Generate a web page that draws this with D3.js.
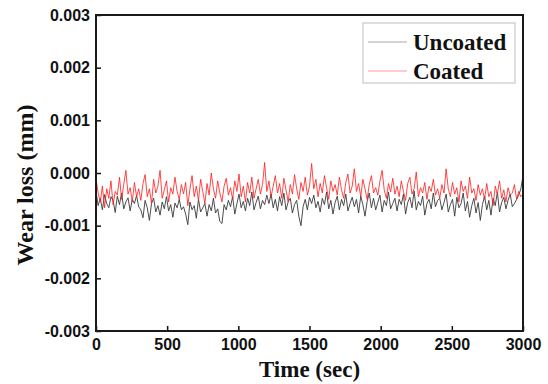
<!DOCTYPE html>
<html>
<head>
<meta charset="utf-8">
<script src="https://cdn.jsdelivr.net/npm/d3@7"></script>
<style>
  body { margin: 0; background: #fff; }
  .tick text { font-family: "Liberation Sans", Arial, sans-serif; font-weight: bold; font-size: 16px; fill: #111; }
  .title { font-family: "Liberation Serif", "Times New Roman", serif; font-weight: bold; fill: #111; }
</style>
</head>
<body>
<svg id="chart"></svg>
<script>
// sampled every 15 sec, values in units of 1e-5 mm
const sampleStep = 15;
const unit = 1e-5;
const uncoated = [
  -35,-62,-48,-70,-41,-58,-66,-45,-52,-75,-44,-60,-38,-68,-55,-47,-72,-50,-58,-43,-64,
  -70,-85,-52,-66,-90,-58,-48,-74,-62,-80,-55,-68,-45,-72,-60,-84,-57,-66,-50,-70,
  -64,-78,-98,-55,-70,-62,-86,-50,-74,-66,-58,-82,-60,-72,-48,-76,-68,-92,-96,-60,
  -70,-52,-64,-45,-78,-58,-40,-66,-54,-72,-48,-62,-36,-70,-56,-44,-68,-52,-60,-42,
  -58,-40,-66,-50,-72,-45,-62,-38,-70,-55,-48,-76,-60,-52,-82,-100,-64,-50,-70,-46,
  -58,-42,-66,-54,-74,-48,-60,-36,-68,-52,-78,-56,-44,-70,-50,-62,-40,-72,-58,-46,
  -64,-50,-76,-44,-60,-82,-54,-38,-66,-48,-70,-56,-42,-74,-52,-62,-36,-68,-58,-48,
  -72,-50,-60,-40,-78,-56,-46,-66,-34,-70,-54,-62,-44,-80,-58,-50,-68,-38,-64,-52,
  -48,-70,-56,-40,-74,-60,-50,-82,-46,-66,-58,-38,-72,-54,-84,-62,-48,-76,-56,-90,
  -60,-44,-70,-52,-80,-48,-62,-36,-74,-56,-46,-68,-52,-40,-64,-58,-50,-42,-30,-5
];
const coated = [
  -10,-38,-55,-25,-66,-30,-48,-15,-60,-35,-42,-8,-50,-22,5,-40,-28,-55,-18,-45,-30,
  -52,-20,-3,-45,-30,-58,-12,-38,-25,5,-48,-32,-15,-55,-28,-40,-8,-35,-50,-22,
  -40,-18,-62,-30,-5,-45,-25,-52,-12,-35,-58,-20,-42,0,-30,-48,-15,-38,-55,-25,
  -10,-42,-28,-50,-15,-35,-2,-45,-25,-55,-18,-38,-8,-48,-30,-12,-40,-22,20,-35,
  -15,-45,-25,-5,-38,-20,-48,-10,-32,-55,-22,-40,-3,-30,-50,-18,-35,-8,-42,-25,
  18,-30,-12,-45,-20,-38,-5,-28,-50,-15,-35,-22,-42,-8,-32,-48,-18,-2,-38,-25,
  8,-35,-20,-45,-12,-30,-50,-22,-5,-38,-28,-42,-15,5,-32,-48,-20,-36,-10,-40,
  -25,-45,-15,-35,-52,-20,-8,-40,-30,2,-45,-28,-38,-18,-50,-25,-35,-12,-42,-30,
  -48,-22,-38,8,-30,-45,-18,-40,-28,-55,-15,-35,-25,-48,-8,-38,-30,-52,-22,-42,
  -30,-50,-20,-45,-35,-62,-25,-40,-15,-48,-32,-55,-28,-42,-38,-22,-50,-35,-45,-40
];
const xTicks = [0, 500, 1000, 1500, 2000, 2500, 3000];
const yTicks = [-0.003, -0.002, -0.001, 0, 0.001, 0.002, 0.003];
const seriesNames = ['Uncoated', 'Coated'];
const seriesColors = ['#3a3a3a', '#ff1a1a'];

const W = 548, H = 384;
const margin = { top: 15, right: 25, bottom: 53, left: 96 };
const width = W - margin.left - margin.right;
const height = H - margin.top - margin.bottom;

const svg = d3.select('#chart').attr('width', W).attr('height', H);
const g = svg.append('g').attr('transform', `translate(${margin.left},${margin.top})`);

const x = d3.scaleLinear().domain([0, 3000]).range([0, width]);
const y = d3.scaleLinear().domain([-0.003, 0.003]).range([height, 0]);

const line = d3.line()
  .x((d, i) => x(i * sampleStep))
  .y((d) => y(d * unit));

const series = [uncoated, coated];
series.forEach((s, k) => {
  g.append('path')
    .datum(s)
    .attr('fill', 'none')
    .attr('stroke', seriesColors[k])
    .attr('stroke-width', 1)
    .attr('stroke-opacity', k === 0 ? 0.9 : 0.8)
    .attr('d', line);
});

// axes with inward ticks
const yFormat = (d) => d3.format('.3f')(d).replace('\u2212', '-');
const xAxis = g.append('g')
  .attr('transform', `translate(0,${height})`)
  .call(d3.axisBottom(x).tickValues(xTicks).tickFormat(d3.format('d')).tickSizeInner(-5).tickSizeOuter(0).tickPadding(8));
const yAxis = g.append('g')
  .call(d3.axisLeft(y).tickValues(yTicks).tickFormat(yFormat).tickSizeInner(-5).tickSizeOuter(0).tickPadding(6));
[xAxis, yAxis].forEach((a) => {
  a.select('.domain').remove();
  a.selectAll('.tick line').attr('stroke', '#111').attr('stroke-width', 1.5);
});

// frame
g.append('rect')
  .attr('width', width)
  .attr('height', height)
  .attr('fill', 'none')
  .attr('stroke', '#1a1a1a')
  .attr('stroke-width', 2);

// legend
const legend = svg.append('g').attr('transform', 'translate(363,23)');
legend.append('rect')
  .attr('width', 152)
  .attr('height', 60)
  .attr('fill', '#fff')
  .attr('stroke', '#c8c8c8')
  .attr('stroke-width', 1.2);
seriesNames.forEach((name, k) => {
  const ly = 19 + k * 29;
  legend.append('line')
    .attr('x1', 5).attr('x2', 44)
    .attr('y1', ly).attr('y2', ly)
    .attr('stroke', k === 0 ? '#aaa' : '#ff9a9a')
    .attr('stroke-width', 1.2);
  legend.append('text')
    .attr('class', 'title')
    .attr('x', 50)
    .attr('y', ly + 8)
    .style('font-size', '23px')
    .text(name);
});

// axis titles
svg.append('text')
  .attr('class', 'title')
  .attr('x', margin.left + width / 2)
  .attr('y', 377)
  .attr('text-anchor', 'middle')
  .style('font-size', '23px')
  .text('Time (sec)');
svg.append('text')
  .attr('class', 'title')
  .attr('transform', 'translate(33,185) rotate(-90)')
  .attr('text-anchor', 'middle')
  .style('font-size', '24px')
  .text('Wear loss (mm)');
</script>
</body>
</html>
